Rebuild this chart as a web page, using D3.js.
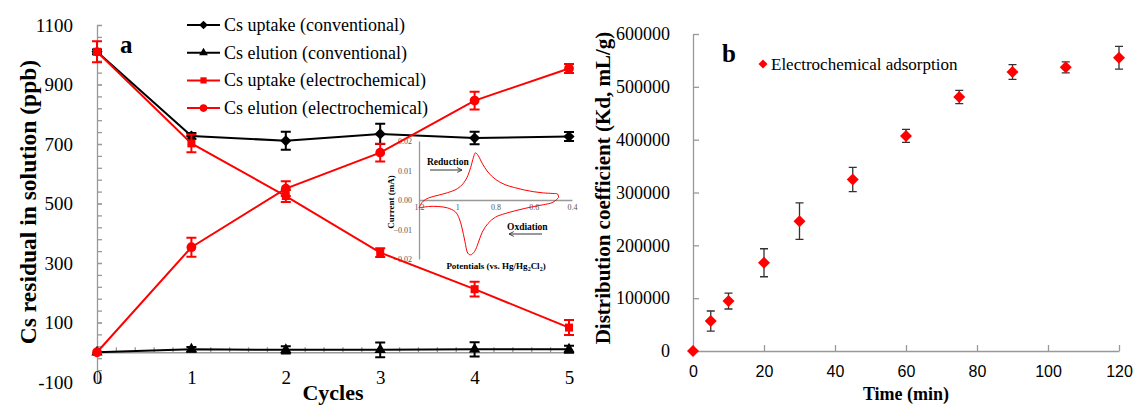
<!DOCTYPE html>
<html>
<head>
<meta charset="utf-8">
<script src="https://cdn.jsdelivr.net/npm/d3@7"></script>
<style>
body{margin:0;background:#fff}
svg{display:block}
text{font-family:"Liberation Serif","Times New Roman",serif;fill:#000}
.ax path,.ax line{stroke:#999;stroke-width:1.3}
.sans text{font-family:"Liberation Sans",Arial,sans-serif}
</style>
</head>
<body>
<div id="chart"></div>
<script>
//---panel a data---
var cycles=[0,1,2,3,4,5]
var uptakeConv=[1010,727,711,734,720,725]
var uptakeConvErr=[8,10,30,34,21,15]
var elutionConv=[0,10,8,8,10,10]
var elutionConvErr=[0,8,12,25,24,12]
var uptakeElec=[1010,702,525,335,212,83]
var uptakeElecErr=[35,30,20,15,25,25]
var elutionElec=[0,353,550,671,846,954]
var elutionElecErr=[0,32,25,30,30,15]
var seriesNames=["Cs uptake (conventional)","Cs elution (conventional)","Cs uptake (electrochemical)","Cs elution (electrochemical)"]
var yTicksA=[-100,100,300,500,700,900,1100]

//---inset CV data---
var cvFwdE=[1.20,1.18,1.15,1.10,1.05,1.00,0.97,0.95,0.93,0.915,0.905,0.89,0.87,0.84,0.80,0.75,0.70,0.65,0.60,0.55,0.50,0.475,0.47]
var cvFwdI=[-0.0027,-0.0005,0.0007,0.0016,0.0025,0.0038,0.0055,0.0075,0.0110,0.0145,0.0160,0.0150,0.0125,0.0095,0.0070,0.0052,0.0042,0.0034,0.0028,0.0024,0.0022,0.0020,0.0008]
var cvRevE=[0.47,0.50,0.55,0.60,0.65,0.70,0.75,0.80,0.84,0.87,0.89,0.91,0.93,0.945,0.96,0.975,0.99,1.01,1.05,1.10,1.15,1.20]
var cvRevI=[0.0008,-0.0008,-0.0016,-0.0022,-0.0029,-0.0037,-0.0046,-0.0058,-0.0080,-0.0110,-0.0145,-0.0175,-0.0186,-0.0180,-0.0140,-0.0095,-0.0062,-0.0040,-0.0027,-0.0022,-0.0022,-0.0027]
var cvXTicks=[1.2,1,0.8,0.6,0.4]
var cvYTicks=[-0.02,-0.01,0,0.01,0.02]

//---panel b data---
var timeMin=[0,5,10,20,30,45,60,75,90,105,120]
var kd=[0,56700,94500,167000,245700,324600,407000,480700,528000,537000,555000]
var kdErr=[0,19000,15000,26500,34600,23000,12300,12600,14000,10400,21400]
var xTicksB=[0,20,40,60,80,100,120]
var yTicksB=[0,100000,200000,300000,400000,500000,600000]

var W=1135,H=407
var plain=function(d){return String(d)}
var svg=d3.select("#chart").append("svg").attr("width",W).attr("height",H)

// ================= panel a =================
var xA=d3.scaleLinear().domain([0,5]).range([97,569])
var yA=d3.scaleLinear().domain([-100,1100]).range([382,25])

var minorY=d3.range(-100,1101,40)
svg.append("g").attr("class","ax").attr("transform","translate("+xA(0)+",0)")
  .call(d3.axisLeft(yA).tickValues(minorY).tickSize(-5).tickSizeOuter(0).tickFormat(""))
svg.append("g").attr("class","ax").attr("transform","translate("+xA(0)+",0)")
  .call(d3.axisLeft(yA).tickValues(yTicksA).tickSize(-5).tickSizeOuter(0).tickPadding(24).tickFormat(plain))
  .call(function(g){g.select(".domain").remove()})
  .selectAll("text").attr("font-size",19).style("font-family","Liberation Serif")

svg.append("g").attr("class","ax").attr("transform","translate(0,"+yA(0)+")")
  .call(d3.axisBottom(xA).tickValues(d3.range(0,5.01,0.2)).tickSize(-5).tickSizeOuter(0).tickFormat(""))
svg.append("g").attr("class","ax").attr("transform","translate(0,"+yA(0)+")")
  .call(d3.axisBottom(xA).tickValues(cycles).tickSize(0).tickPadding(18).tickFormat(plain))
  .call(function(g){g.select(".domain").remove()})
  .selectAll("text").attr("font-size",19).style("font-family","Liberation Serif")

svg.append("text").attr("transform","translate(36,202) rotate(-90)")
  .attr("text-anchor","middle").attr("font-size",23.5).attr("font-weight","bold")
  .text("Cs residual in solution (ppb)")
svg.append("text").attr("x",333).attr("y",400).attr("text-anchor","middle")
  .attr("font-size",22).attr("font-weight","bold").text("Cycles")
svg.append("text").attr("x",120).attr("y",53).attr("font-size",25).attr("font-weight","bold").text("a")

//---inset CV---
var inset=svg.append("g")
svg.append("clipPath").attr("id","insetClip").append("rect")
  .attr("x",360).attr("y",125).attr("width",220).attr("height",150)
inset.attr("clip-path","url(#insetClip)")
var xC=d3.scaleLinear().domain([1.2,0.4]).range([419,572])
var yC=d3.scaleLinear().domain([-0.02,0.02]).range([259,141])
inset.append("g").attr("class","ax").attr("transform","translate(419,0)")
  .call(d3.axisLeft(yC).tickValues(cvYTicks).tickSize(0).tickPadding(7).tickFormat(d3.format(".2f")))
  .call(function(g){g.select(".domain").attr("stroke-width",0.8)})
  .selectAll("text").attr("font-size",8).attr("fill","#555").style("fill","#555")
inset.append("g").attr("class","ax").attr("transform","translate(0,"+yC(0)+")")
  .call(d3.axisBottom(xC).tickValues(cvXTicks).tickSize(0).tickPadding(4).tickFormat(plain))
  .call(function(g){g.select(".domain").attr("stroke-width",0.8)})
  .selectAll("text").attr("font-size",8).attr("fill","#555").style("fill","#555")
var cvLine=d3.line().x(function(d){return xC(d[0])}).y(function(d){return yC(d[1])}).curve(d3.curveCatmullRom)
inset.append("path").datum(d3.zip(cvFwdE,cvFwdI)).attr("d",cvLine).attr("fill","none").attr("stroke","red").attr("stroke-width",1)
inset.append("path").datum(d3.zip(cvRevE,cvRevI)).attr("d",cvLine).attr("fill","none").attr("stroke","red").attr("stroke-width",1)
inset.append("text").attr("transform","translate(394,202) rotate(-90)").attr("text-anchor","middle")
  .attr("font-size",9).attr("font-weight","bold").text("Current (mA)")
inset.append("text").attr("x",496).attr("y",269).attr("text-anchor","middle")
  .attr("font-size",9).attr("font-weight","bold")
  .html('Potentials (vs. Hg/Hg<tspan font-size="6" dy="2">2</tspan><tspan dy="-2">Cl</tspan><tspan font-size="6" dy="2">2</tspan><tspan dy="-2">)</tspan>')
inset.append("text").attr("x",427).attr("y",165).attr("font-size",9.5).attr("font-weight","bold").text("Reduction")
inset.append("text").attr("x",507).attr("y",230).attr("font-size",9.5).attr("font-weight","bold").text("Oxdiation")
svg.append("defs").append("marker").attr("id","arr").attr("viewBox","0 0 10 10").attr("refX",9).attr("refY",5)
  .attr("markerWidth",6).attr("markerHeight",6).attr("orient","auto")
  .append("path").attr("d","M1 1L9 5L1 9").attr("fill","none").attr("stroke","#333").attr("stroke-width",1.5)
inset.append("line").attr("x1",430).attr("y1",170).attr("x2",462).attr("y2",170).attr("stroke","#333").attr("marker-end","url(#arr)")
inset.append("line").attr("x1",542).attr("y1",234).attr("x2",509).attr("y2",234).attr("stroke","#333").attr("marker-end","url(#arr)")

//---series---
var seriesA=[
  {name:seriesNames[0],vals:uptakeConv,err:uptakeConvErr,color:"#000",sym:d3.symbolSquare,size:62,rot:45},
  {name:seriesNames[1],vals:elutionConv,err:elutionConvErr,color:"#000",sym:d3.symbolTriangle,size:55,rot:0},
  {name:seriesNames[2],vals:uptakeElec,err:uptakeElecErr,color:"red",sym:d3.symbolSquare,size:64,rot:0},
  {name:seriesNames[3],vals:elutionElec,err:elutionElecErr,color:"red",sym:d3.symbolCircle,size:75,rot:0}
]
var lineA=d3.line().x(function(d){return xA(d[0])}).y(function(d){return yA(d[1])})
seriesA.forEach(function(s){
  var g=svg.append("g")
  var pts=d3.zip(cycles,s.vals,s.err)
  g.append("path").datum(pts).attr("d",lineA).attr("fill","none").attr("stroke",s.color).attr("stroke-width",2)
  pts.forEach(function(p){
    if(p[2]>0){
      var cx=xA(p[0]),y1=yA(p[1]+p[2]),y2=yA(p[1]-p[2])
      g.append("path").attr("d","M"+cx+","+y1+"V"+y2+"M"+(cx-5)+","+y1+"H"+(cx+5)+"M"+(cx-5)+","+y2+"H"+(cx+5))
        .attr("stroke",s.color).attr("stroke-width",2).attr("fill","none")
    }
    g.append("path").attr("d",d3.symbol().type(s.sym).size(s.size)).attr("fill",s.color)
      .attr("transform","translate("+xA(p[0])+","+yA(p[1])+") rotate("+s.rot+")")
  })
})

//---legend a---
var leg=svg.append("g")
seriesA.forEach(function(s,i){
  var y=25+i*27.7
  leg.append("line").attr("x1",187).attr("x2",220).attr("y1",y).attr("y2",y).attr("stroke",s.color).attr("stroke-width",2)
  leg.append("path").attr("d",d3.symbol().type(s.sym).size(s.size*0.6)).attr("fill",s.color)
    .attr("transform","translate(203.5,"+y+") rotate("+s.rot+")")
  leg.append("text").attr("x",224).attr("y",y+6).attr("font-size",18).text(s.name)
})

// ================= panel b =================
var xB=d3.scaleLinear().domain([0,120]).range([693,1119])
var yB=d3.scaleLinear().domain([0,600000]).range([351,34])

svg.append("g").attr("class","ax").attr("transform","translate("+xB(0)+",0)")
  .call(d3.axisLeft(yB).tickValues(yTicksB).tickSize(-6).tickSizeOuter(0).tickPadding(23).tickFormat(plain))
  .selectAll("text").attr("font-size",18).style("font-family","Liberation Serif")
svg.append("g").attr("class","ax sans").attr("transform","translate(0,"+yB(0)+")")
  .call(d3.axisBottom(xB).tickValues(xTicksB).tickSize(-6).tickSizeOuter(0).tickPadding(15).tickFormat(plain))
  .selectAll("text").attr("font-size",16)

svg.append("text").attr("transform","translate(610,188) rotate(-90)")
  .attr("text-anchor","middle").attr("font-size",21).attr("font-weight","bold")
  .text("Distribution coefficient (Kd, mL/g)")
svg.append("text").attr("x",906).attr("y",400).attr("text-anchor","middle")
  .attr("font-size",18).attr("font-weight","bold").text("Time (min)")
svg.append("text").attr("x",722).attr("y",62).attr("font-size",25).attr("font-weight","bold").text("b")

var gB=svg.append("g")
d3.zip(timeMin,kd,kdErr).forEach(function(p){
  var cx=xB(p[0])
  if(p[2]>0){
    var y1=yB(p[1]+p[2]),y2=yB(p[1]-p[2])
    gB.append("path").attr("d","M"+cx+","+y1+"V"+y2+"M"+(cx-4)+","+y1+"H"+(cx+4)+"M"+(cx-4)+","+y2+"H"+(cx+4))
      .attr("stroke","#333").attr("stroke-width",1.3).attr("fill","none")
  }
  gB.append("path").attr("d",d3.symbol().type(d3.symbolSquare).size(72)).attr("fill","red")
    .attr("transform","translate("+cx+","+yB(p[1])+") rotate(45)")
})
svg.append("path").attr("d",d3.symbol().type(d3.symbolSquare).size(40)).attr("fill","red")
  .attr("transform","translate(763,64) rotate(45)")
svg.append("text").attr("x",771).attr("y",70).attr("font-size",17).text("Electrochemical adsorption")
</script>
</body>
</html>
